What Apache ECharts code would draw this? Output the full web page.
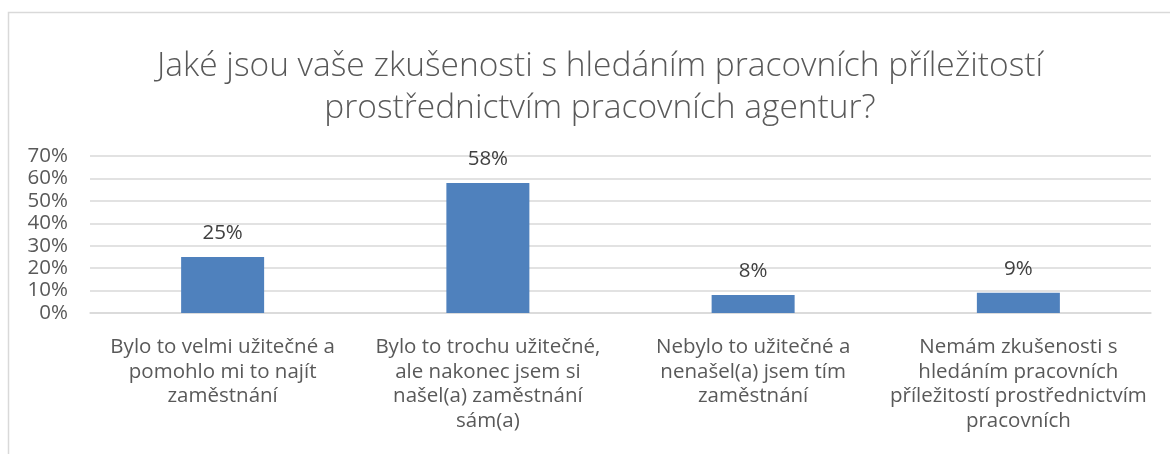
<!DOCTYPE html>
<html>
<head>
<meta charset="utf-8">
<script src="https://cdn.jsdelivr.net/npm/echarts@6/dist/echarts.min.js"></script>
<style>
  html, body { margin: 0; padding: 0; background: #fff; }
  #chart { width: 1170px; height: 454px; }
</style>
</head>
<body>
<div id="chart"></div>
<script>
// data
var titleText = 'Jaké jsou vaše zkušenosti s hledáním pracovních příležitostí\nprostřednictvím pracovních agentur?';
var categories = [
  'Bylo to velmi užitečné a\npomohlo mi to najít\nzaměstnání',
  'Bylo to trochu užitečné,\nale nakonec jsem si\nnašel(a) zaměstnání\nsám(a)',
  'Nebylo to užitečné a\nnenašel(a) jsem tím\nzaměstnání',
  'Nemám zkušenosti s\nhledáním pracovních\npříležitostí prostřednictvím\npracovních'
];
var values = [25, 58, 8, 9];

window.onload = function () {
  var myChart = echarts.init(document.getElementById('chart'));
  var option = {
    backgroundColor: '#fff',
    animation: false,
    textStyle: { fontFamily: 'Open Sans' },
    graphic: [{
      type: 'rect',
      shape: { x: 8.5, y: 12.5, width: 1300, height: 600 },
      style: { fill: 'none', stroke: '#d9d9d9', lineWidth: 1.5 },
      silent: true
    }],
    title: {
      text: titleText,
      left: 595,
      textAlign: 'center',
      top: 40,
      textStyle: {
        fontFamily: 'Open Sans',
        fontSize: 33.5,
        fontWeight: 300,
        color: '#595959',
        lineHeight: 42
      }
    },
    grid: { left: 90, right: 19, top: 156, bottom: 141 },
    xAxis: {
      type: 'category',
      data: categories,
      axisLine: { show: true, lineStyle: { color: '#d9d9d9', width: 1.5 } },
      axisTick: { show: false },
      axisLabel: {
        interval: 0,
        margin: 22,
        fontSize: 20.5,
        lineHeight: 24.5,
        color: '#595959',
        fontFamily: 'Open Sans'
      }
    },
    yAxis: {
      type: 'value',
      min: 0,
      max: 70,
      interval: 10,
      axisLine: { show: false },
      axisTick: { show: false },
      splitLine: { lineStyle: { color: '#d9d9d9', width: 1.5 } },
      axisLabel: {
        formatter: '{value}%',
        fontSize: 20.5,
        margin: 22,
        color: '#595959',
        fontFamily: 'Open Sans'
      }
    },
    series: [{
      type: 'bar',
      data: values,
      barWidth: 83,
      itemStyle: { color: '#4F81BD' },
      label: {
        show: true,
        position: 'top',
        distance: 13,
        formatter: '{c}%',
        fontSize: 20.5,
        color: '#404040',
        fontFamily: 'Open Sans'
      }
    }]
  };
  myChart.setOption(option);
};
</script>
</body>
</html>
